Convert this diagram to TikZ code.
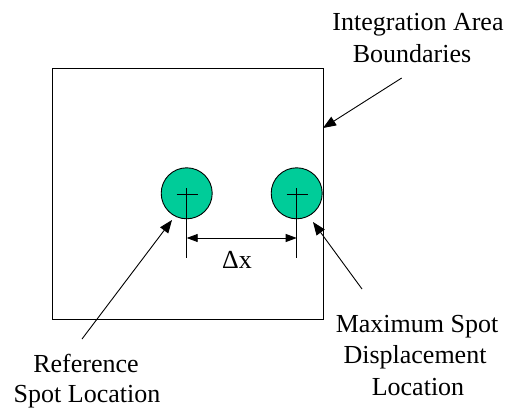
\documentclass[tikz,border=0pt]{standalone}
\usepackage{fontspec}
\setmainfont{Liberation Serif}
\newfontfamily\timesfont{Liberation Serif}
\usetikzlibrary{arrows.meta}
\definecolor{spotgreen}{RGB}{0,204,153}
\tikzset{
  lbl/.style={font=\timesfont\fontsize{26}{31}\selectfont, inner sep=0pt, anchor=base},
  spot/.style={circle, draw=black, line width=0.9pt, fill=spotgreen, minimum size=51pt, inner sep=0pt},
  pointer/.style={line width=0.9pt, -{Triangle[length=13pt,width=10pt]}},
  dimarrow/.style={line width=0.9pt, {Triangle[length=11pt,width=8pt]}-{Triangle[length=11pt,width=8pt]}},
  thin line/.style={line width=0.9pt}
}
\begin{document}
\begin{tikzpicture}[x=1pt,y=-1pt]
\useasboundingbox (0,0) rectangle (510,409);
% integration area
\node[draw, line width=0.9pt, minimum width=270.7pt, minimum height=251pt, inner sep=0pt, anchor=north west] (box) at (52,68) {};
% spots
\node[spot] (lspot) at (186.7,193.3) {};
\node[spot] (rspot) at (296.7,193.3) {};
% crosses and extension lines
\coordinate (ltop) at (186.7,188);
\coordinate (lbot) at (186.7,258);
\coordinate (rtop) at (296.7,188);
\coordinate (rbot) at (296.7,258);
\draw[thin line] (ltop) -- (lbot);
\draw[thin line] (rtop) -- (rbot);
\draw[thin line] (176.7,194.3) -- (197.7,194.3);
\draw[thin line] (286.7,194.3) -- (307.7,194.3);
% dimension
\coordinate (dl) at (186.7,238);
\coordinate (dr) at (296.7,238);
\draw[dimarrow] (dl) -- (dr);
\node[lbl] (dx) at (237,268) {Δx};
% labels
\node[lbl] (ia1) at (418,31) {Integration Area};
\node[lbl] (ia2) at (412,63) {Boundaries};
\node[lbl] (rf1) at (86,372) {Reference};
\node[lbl] (rf2) at (87,402) {Spot Location};
\node[lbl] (mx1) at (417,332) {Maximum Spot};
\node[lbl] (mx2) at (415,363) {Displacement};
\node[lbl] (mx3) at (418,395) {Location};
% pointers
\coordinate (iaS) at (401.7,78);
\coordinate (iaE) at (323,128);
\coordinate (rfS) at (82,339);
\coordinate (rfE) at (172,220);
\coordinate (mxS) at (362,289);
\coordinate (mxE) at (313,222);
\draw[pointer] (iaS) -- (iaE);
\draw[pointer] (rfS) -- (rfE);
\draw[pointer] (mxS) -- (mxE);
\end{tikzpicture}
\end{document}
